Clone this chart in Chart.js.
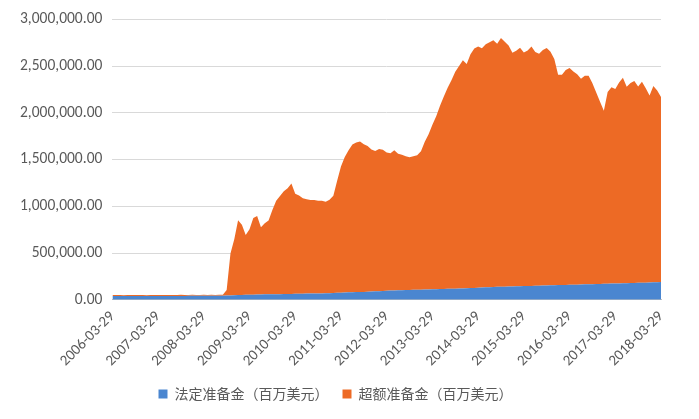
<!DOCTYPE html>
<html><head><meta charset="utf-8">
<script src="https://cdn.jsdelivr.net/npm/chart.js@4"></script>
<style>html,body{margin:0;padding:0;background:#fff}#w{width:699px;height:419px}</style>
</head><body><div id="w"><canvas id="c"></canvas></div>
<script>
const startYear = 2006, startMonth = 3, monthCount = 145;
const seriesNames = ["法定准备金（百万美元）", "超额准备金（百万美元）"];
const requiredK = [
 40,40,40,40,40,40,40,40,40,40,
 40,40,40,41,41,41,41,41,41,41,
 42,42,42,42,42,42,42,42,43,43,
 45,46,48,50,
 52,53,54,55,56,57,58,58,59,60,60,61,
 62,63,64,65,65,66,66,67,68,68,69,70,
 72,74,76,78,80,81,82,83,84,86,88,90,
 92,94,96,98,100,101,102,104,105,106,107,108,
 110,111,112,113,114,115,117,118,119,120,121,123,
 125,127,129,131,133,135,136,138,139,140,141,143,
 144,145,146,147,148,150,151,152,153,154,155,157,
 158,159,160,161,162,164,165,166,167,168,169,171,
 172,173,174,175,176,178,179,180,181,182,183,185,
 187,188,190
];
const excessK = [
 10,10,12,9,10,11,10,12,10,9,
 10,11,12,10,9,10,11,10,12,10,
 10,11,9,10,12,10,11,10,10,12,
 60,450,600,800,
 750,640,700,820,840,720,760,790,900,1000,1050,1100,
 1130,1180,1070,1050,1020,1010,1000,1000,990,990,980,1000,
 1040,1200,1350,1450,1520,1580,1600,1610,1580,1560,1520,1500,
 1520,1510,1480,1470,1500,1460,1450,1430,1420,1430,1440,1480,
 1580,1660,1760,1850,1960,2060,2150,2230,2320,2380,2440,2400,
 2500,2560,2580,2560,2600,2620,2640,2600,2660,2620,2580,2500,
 2520,2550,2500,2520,2560,2500,2480,2520,2540,2500,2420,2250,
 2250,2300,2320,2280,2250,2200,2230,2230,2150,2050,1950,1850,
 2050,2100,2080,2150,2200,2100,2140,2160,2100,2150,2080,2000,
 2100,2050,1980
];
const labels = [];
for (let i = 0; i < monthCount; i++) {
  const m = startMonth - 1 + i, y = startYear + Math.floor(m / 12), mm = (m % 12) + 1;
  labels.push(y + "-" + String(mm).padStart(2, "0") + "-29");
}
const fmt = v => v.toLocaleString("en-US", {minimumFractionDigits: 2, maximumFractionDigits: 2});
new Chart(document.getElementById("c"), {
  type: "line",
  data: { labels, datasets: [
    { label: seriesNames[0], data: requiredK.map(v => v * 1000), backgroundColor: "#4A86D0", borderColor: "#4A86D0", borderWidth: 0, fill: "origin", pointRadius: 0, tension: 0 },
    { label: seriesNames[1], data: excessK.map(v => v * 1000), backgroundColor: "#ED6A25", borderColor: "#ED6A25", borderWidth: 0, fill: "-1", pointRadius: 0, tension: 0 }
  ]},
  options: {
    responsive: true, maintainAspectRatio: false, animation: false,
    layout: { padding: { left: 10, right: 38, top: 14, bottom: 8 } },
    plugins: {
      legend: { position: "bottom", labels: { boxWidth: 9, boxHeight: 9, color: "#595959", font: { family: "Noto Sans CJK SC", size: 14 }, padding: 14 } },
      tooltip: { enabled: false }
    },
    scales: {
      x: { stacked: true, offset: false,
        grid: { display: false, drawTicks: true, tickLength: 5, color: "#bfbfbf" },
        border: { color: "#bfbfbf" },
        ticks: { autoSkip: false, maxRotation: 45, minRotation: 45, color: "#595959", font: { family: "Calibri, Carlito, 'Liberation Sans'", size: 15 },
          callback: (v, i) => i % 12 === 0 ? labels[i] : null }
      },
      y: { stacked: true, min: 0, max: 3000000,
        grid: { color: "#d9d9d9", drawTicks: false }, border: { display: false },
        ticks: { stepSize: 500000, padding: 10, color: "#595959", font: { family: "Calibri, Carlito, 'Liberation Sans'", size: 15.5 }, callback: v => fmt(v) }
      }
    }
  }
});
</script></body></html>
